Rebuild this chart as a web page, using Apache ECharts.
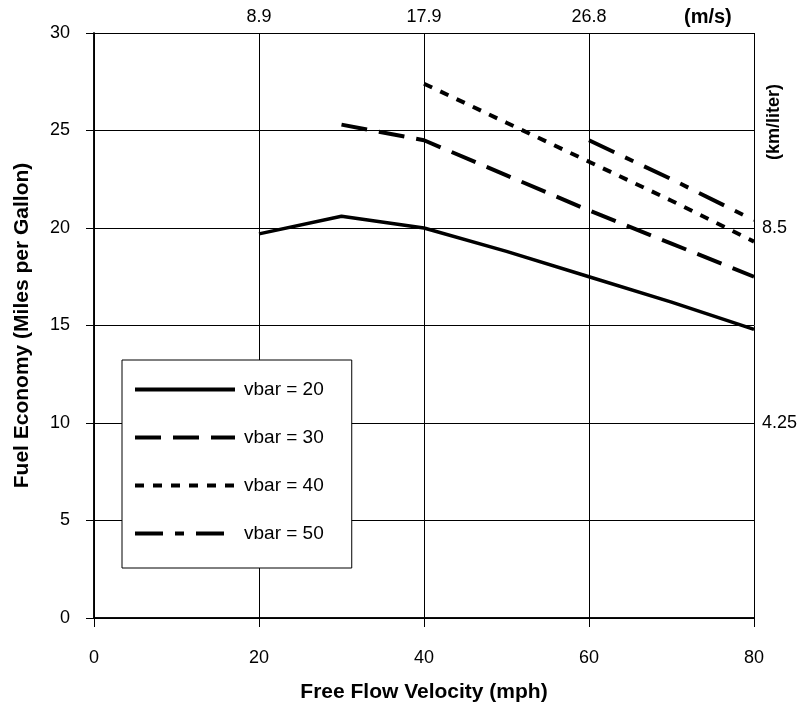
<!DOCTYPE html>
<html>
<head>
<meta charset="utf-8">
<script src="https://cdn.jsdelivr.net/npm/echarts@6/dist/echarts.min.js"></script>
<style>
  html, body { margin: 0; padding: 0; background: #fff; }
  #chart { width: 804px; height: 708px; }
</style>
</head>
<body>
<div id="chart"></div>
<script>
// free flow velocity (mph) and fuel economy (mpg)
const vbar20X = [20, 30, 40, 50, 60, 70, 80];
const vbar20Y = [19.7, 20.6, 20.0, 18.8, 17.5, 16.2, 14.8];
const vbar30X = [30, 40, 50, 60, 70, 80];
const vbar30Y = [25.3, 24.5, 22.7, 20.9, 19.2, 17.5];
const vbar40X = [40, 50, 60, 70, 80];
const vbar40Y = [27.4, 25.4, 23.4, 21.4, 19.3];
const vbar50X = [60, 70, 80];
const vbar50Y = [24.5, 22.5, 20.4];

// secondary scales
const topTickValues = [0, 20, 40, 60, 80];
const topTickLabels = ['', '8.9', '17.9', '26.8', ''];
const rightTickValues = [0, 5, 10, 15, 20, 25, 30];
const rightTickLabels = ['', '', '4.25', '', '8.5', '', ''];

const font = '"Liberation Sans", Arial, sans-serif';

function pairs(xs, ys) {
    return xs.map((x, i) => [x, ys[i]]);
}

function lineSeries(name, xs, ys, type, width) {
    return {
        name: name,
        type: 'line',
        data: pairs(xs, ys),
        symbol: 'none',
        lineStyle: { color: '#000', width: width, type: type, cap: 'butt' },
        itemStyle: { color: '#000', opacity: 0 },
        emphasis: { disabled: true }
    };
}

const chart = echarts.init(document.getElementById('chart'), null, { renderer: 'canvas' });

chart.setOption({
    animation: false,
    backgroundColor: '#fff',
    textStyle: { fontFamily: font, color: '#000' },
    grid: { left: 94, right: 50, top: 33, bottom: 90, containLabel: false },
    legend: {
        orient: 'vertical',
        left: 122,
        top: 360,
        padding: [20, 28, 25, 11],
        itemWidth: 100,
        itemHeight: 14,
        itemGap: 29,
        borderColor: '#000',
        borderWidth: 1,
        backgroundColor: '#fff',
        itemStyle: { opacity: 0 },
        lineStyle: { width: 4 },
        textStyle: { fontSize: 19, color: '#000', fontFamily: font, padding: [0, 0, 0, 4] },
        data: ['vbar = 20', 'vbar = 30', 'vbar = 40', 'vbar = 50']
    },
    xAxis: [{
        type: 'value',
        position: 'bottom',
        min: 0, max: 80, interval: 20,
        name: 'Free Flow Velocity (mph)',
        nameLocation: 'middle',
        nameGap: 64,
        nameTextStyle: { fontSize: 21, fontWeight: 'bold', color: '#000' },
        axisLine: { show: true, lineStyle: { color: '#000', width: 1.5 } },
        axisTick: { show: true, inside: false, length: 9, lineStyle: { color: '#000' } },
        axisLabel: { fontSize: 18, color: '#000', margin: 31 },
        splitLine: { show: true, lineStyle: { color: '#000', width: 1 } }
    }, {
        type: 'value',
        position: 'top',
        min: 0, max: 80, interval: 20,
        axisLine: { show: true, lineStyle: { color: '#000', width: 1.5 } },
        axisTick: { show: false },
        axisLabel: {
            fontSize: 18, color: '#000', margin: 7,
            formatter: v => topTickLabels[topTickValues.indexOf(v)] || ''
        },
        splitLine: { show: false }
    }],
    yAxis: [{
        type: 'value',
        position: 'left',
        min: 0, max: 30, interval: 5,
        name: 'Fuel Economy (Miles per Gallon)',
        nameLocation: 'middle',
        nameGap: 61,
        nameTextStyle: { fontSize: 21, fontWeight: 'bold', color: '#000' },
        axisLine: { show: true, lineStyle: { color: '#000', width: 1.5 } },
        axisTick: { show: true, inside: false, length: 8, lineStyle: { color: '#000' } },
        axisLabel: { fontSize: 18, color: '#000', margin: 24 },
        splitLine: { show: true, lineStyle: { color: '#000', width: 1 } }
    }, {
        type: 'value',
        position: 'right',
        min: 0, max: 30, interval: 5,
        axisLine: { show: true, lineStyle: { color: '#000', width: 1.5 } },
        axisTick: { show: false },
        axisLabel: {
            fontSize: 18, color: '#000', margin: 8,
            formatter: v => rightTickLabels[rightTickValues.indexOf(v)] || ''
        },
        splitLine: { show: false }
    }],
    graphic: [{
        type: 'text',
        left: 684,
        top: 7,
        style: { text: '(m/s)', font: 'bold 20px ' + font, fill: '#000' }
    }, {
        type: 'text',
        x: 765,
        y: 160,
        rotation: Math.PI / 2,
        style: { text: '(km/liter)', font: 'bold 18px ' + font, fill: '#000' }
    }],
    series: [
        lineSeries('vbar = 20', vbar20X, vbar20Y, 'solid', 3.5),
        lineSeries('vbar = 30', vbar30X, vbar30Y, [26, 12], 4),
        lineSeries('vbar = 40', vbar40X, vbar40Y, [9, 9], 4),
        lineSeries('vbar = 50', vbar50X, vbar50Y, [28, 12, 9, 12], 4)
    ]
});
</script>
</body>
</html>
